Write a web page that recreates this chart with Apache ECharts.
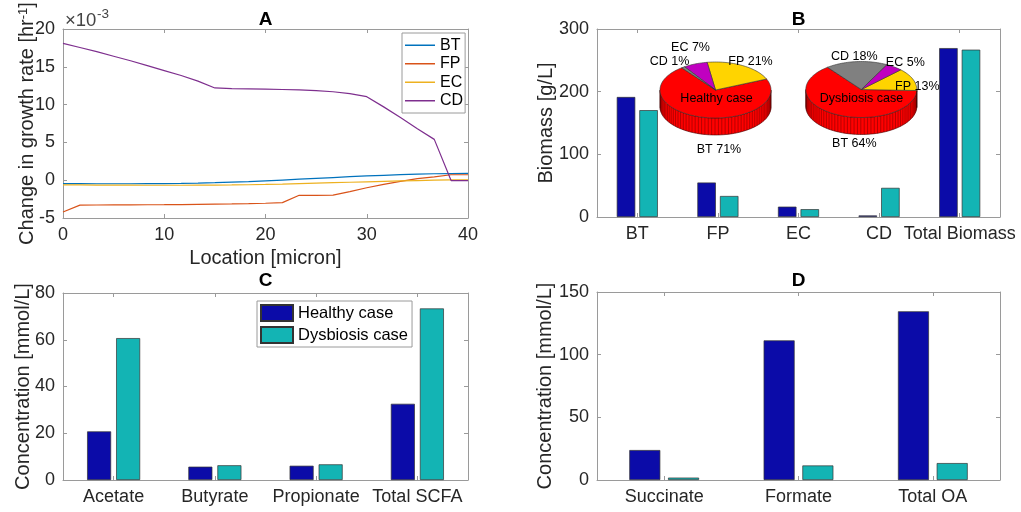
<!DOCTYPE html>
<html>
<head>
<meta charset="utf-8">
<title>Growth rate, biomass and metabolites</title>
<script src="https://cdn.jsdelivr.net/npm/echarts@6/dist/echarts.min.js"></script>
<style>
  html, body { margin: 0; padding: 0; background: #fff; }
  #main { width: 1021px; height: 512px; }
</style>
</head>
<body>
<div id="main"></div>
<script>
// ---- panel A: change in growth rate (x1e-3 per hr) along the location ----
var locs   = [0, 1.67, 3.33, 5, 6.67, 8.33, 10, 11.67, 13.33, 15, 16.67, 18.33, 20,
              21.67, 23.33, 25, 26.67, 28.33, 30, 31.67, 33.33, 35, 36.67, 38.33, 40];
var rateBT = [-0.45, -0.46, -0.47, -0.47, -0.47, -0.46, -0.45, -0.42, -0.38, -0.33, -0.26, -0.18, -0.08,
              0.02, 0.13, 0.24, 0.35, 0.46, 0.56, 0.65, 0.73, 0.8, 0.85, 0.88, 0.89];
var rateFP = [-4.2, -3.3, -3.28, -3.27, -3.26, -3.25, -3.24, -3.22, -3.2, -3.17, -3.14, -3.1, -3.05,
              -2.97, -2.0, -2.0, -1.98, -1.5, -1.0, -0.55, -0.15, 0.2, 0.45, 0.72, 0.72];
var rateEC = [-0.62, -0.63, -0.64, -0.65, -0.66, -0.67, -0.67, -0.67, -0.66, -0.65, -0.63, -0.6, -0.56,
              -0.51, -0.45, -0.39, -0.33, -0.27, -0.21, -0.15, -0.1, -0.05, 0.0, 0.03, 0.03];
var rateCD = [18.1, 17.55, 17.0, 16.4, 15.8, 15.15, 14.5, 13.85, 13.1, 12.2, 12.1, 12.08, 12.05,
              12.0, 11.95, 11.85, 11.7, 11.45, 11.05, 9.7, 8.3, 6.8, 5.4, -0.05, -0.05];

// ---- panel B: biomass [g/L] and composition pies [%] ----
var biomassCats      = ['BT', 'FP', 'EC', 'CD', 'Total Biomass'];
var biomassHealthy   = [191.5, 55, 16.5, 2.5, 269.5];
var biomassDysbiosis = [170.5, 33.5, 12.5, 46.5, 267];
var sliceNames       = ['BT', 'FP', 'EC', 'CD'];
var pieHealthy       = [71, 21, 7, 1];
var pieDysbiosis     = [64, 13, 5, 18];

// ---- panel C: short chain fatty acids [mmol/L] ----
var scfaCats      = ['Acetate', 'Butyrate', 'Propionate', 'Total SCFA'];
var scfaHealthy   = [20.8, 5.7, 6.1, 32.6];
var scfaDysbiosis = [60.7, 6.3, 6.7, 73.4];

// ---- panel D: organic acids [mmol/L] ----
var oaCats      = ['Succinate', 'Formate', 'Total OA'];
var oaHealthy   = [23.9, 111.4, 134.6];
var oaDysbiosis = [1.9, 11.6, 13.5];

var AXIS = '#9a9a9a', TEXT = '#262626';
var FONT = '"Liberation Sans", Arial, Helvetica, sans-serif';
var HEALTHY = '#0b0ba8', DYS = '#13b4b4';
var pieColors = ['#ff0000', '#ffd400', '#c000c0', '#808080'];
var PIE_START = 127.5, PIE_RX = 55.5, PIE_RY = 28, PIE_DEPTH = 17;

function tick() { return { show: true, inside: true, length: 4, lineStyle: { color: AXIS, width: 1 } }; }
function line() { return { show: true, onZero: false, lineStyle: { color: AXIS, width: 1 } }; }
function label() { return { color: TEXT, fontSize: 18, fontFamily: FONT, margin: 8 }; }
var nameStyle = { color: TEXT, fontSize: 20, fontFamily: FONT };

function valAxis(grid, min, max, step, pos, name, gap) {
  var ax = {
    gridIndex: grid, type: 'value', min: min, max: max, interval: step,
    axisLine: line(), axisTick: tick(), splitLine: { show: false },
    axisLabel: label()
  };
  if (pos) { ax.position = pos; ax.axisLabel = { show: false }; }
  if (name) {
    ax.name = name; ax.nameLocation = 'middle'; ax.nameGap = gap;
    ax.nameTextStyle = nameStyle; ax.nameMoveOverlap = false;
  }
  return ax;
}
function catAxis(grid, cats, pos) {
  var ax = {
    gridIndex: grid, type: 'category', data: cats,
    axisLine: line(), splitLine: { show: false },
    axisTick: Object.assign(tick(), { alignWithLabel: true }),
    axisLabel: Object.assign(label(), { interval: 0, hideOverlap: false })
  };
  if (pos) { ax.position = pos; ax.axisLabel = { show: false }; }
  return ax;
}
function bars(name, data, xi, yi, color, width, gap) {
  return {
    type: 'bar', name: name, data: data, xAxisIndex: xi, yAxisIndex: yi,
    barWidth: width, barGap: gap,
    itemStyle: { color: color, borderColor: '#333', borderWidth: 0.7 }
  };
}
function lineSeries(name, vals, color) {
  return {
    type: 'line', name: name, xAxisIndex: 0, yAxisIndex: 0, symbol: 'none',
    data: locs.map(function (x, i) { return [x, vals[i]]; }),
    lineStyle: { color: color, width: 1.2 }, itemStyle: { color: color }
  };
}

// 3-D looking pie drawn with a custom series, slices taken from the percentages
function pie3d(name, pct, cx, cy, labelPos) {
  var total = pct.reduce(function (s, v) { return s + v; }, 0);
  function pt(deg, dy) {
    var r = deg * Math.PI / 180;
    return [cx + PIE_RX * Math.cos(r), cy - PIE_RY * Math.sin(r) + (dy || 0)];
  }
  return {
    type: 'custom', name: name, coordinateSystem: 'none', silent: true, z: 5,
    data: pct,
    renderItem: function (params, api) {
      var i = params.dataIndex;
      var before = 0;
      for (var k = 0; k < i; k++) before += pct[k];
      var a0 = PIE_START + before / total * 360;
      var a1 = a0 + api.value(0) / total * 360;
      var children = [];
      // side wall, only the front (lower) half is visible
      [0, 360].forEach(function (off) {
        var s = Math.max(a0, 180 + off), e = Math.min(a1, 360 + off);
        if (e <= s) return;
        var top = [], bot = [];
        for (var t = s; t < e; t += 2) { top.push(pt(t)); bot.push(pt(t, PIE_DEPTH)); }
        top.push(pt(e)); bot.push(pt(e, PIE_DEPTH));
        children.push({ type: 'polygon', shape: { points: top.concat(bot.reverse()) },
          style: { fill: pieColors[i], stroke: '#400000', lineWidth: 0.6 } });
        for (var t2 = Math.ceil(s / 3.5) * 3.5; t2 < e; t2 += 3.5) {
          var p1 = pt(t2), p2 = pt(t2, PIE_DEPTH);
          children.push({ type: 'line', shape: { x1: p1[0], y1: p1[1], x2: p2[0], y2: p2[1] },
            style: { stroke: 'rgba(70,0,0,0.65)', lineWidth: 0.6 } });
        }
      });
      var face = [[cx, cy]];
      for (var t = a0; t < a1; t += 2) face.push(pt(t));
      face.push(pt(a1));
      children.push({ type: 'polygon', shape: { points: face },
        style: { fill: pieColors[i], stroke: '#333', lineWidth: 0.6 } });
      children.push({ type: 'text', style: {
        text: sliceNames[i] + ' ' + pct[i] + '%',
        x: cx + labelPos[i][0], y: cy + labelPos[i][1],
        align: 'center', verticalAlign: 'middle',
        fontSize: 12.5, fontFamily: FONT, fill: '#000' } });
      return { type: 'group', children: children };
    }
  };
}

function panelTitle(txt, x, y) {
  return { type: 'text', x: x, y: y, style: { text: txt, align: 'center', verticalAlign: 'middle',
    fontSize: 19, fontWeight: 'bold', fontFamily: FONT, fill: '#000' } };
}

var chart = echarts.init(document.getElementById('main'));

chart.setOption({
  animation: false,
  backgroundColor: '#fff',
  grid: [
    { left: 63, top: 29, width: 405, height: 189, outerBoundsMode: 'none' },
    { left: 597, top: 29, width: 403, height: 188, outerBoundsMode: 'none' },
    { left: 63, top: 293, width: 405, height: 187, outerBoundsMode: 'none' },
    { left: 597, top: 292, width: 403, height: 188, outerBoundsMode: 'none' }
  ],
  xAxis: [
    valAxis(0, 0, 40, 10, null, 'Location [micron]', 30),
    valAxis(0, 0, 40, 10, 'top'),
    catAxis(1, biomassCats), catAxis(1, biomassCats, 'top'),
    catAxis(2, scfaCats), catAxis(2, scfaCats, 'top'),
    catAxis(3, oaCats), catAxis(3, oaCats, 'top')
  ],
  yAxis: [
    Object.assign(valAxis(0, -5, 20, 5, null, '{n|Change in growth rate [hr}{s|-1}{n|]}', 26), {
      nameTextStyle: { color: TEXT, fontFamily: FONT, rich: {
        n: { fontSize: 20, color: TEXT, fontFamily: FONT },
        s: { fontSize: 13, color: TEXT, fontFamily: FONT, verticalAlign: 'top' } } }
    }),
    valAxis(0, -5, 20, 5, 'right'),
    valAxis(1, 0, 300, 100, null, 'Biomass [g/L]', 41), valAxis(1, 0, 300, 100, 'right'),
    valAxis(2, 0, 80, 20, null, 'Concentration [mmol/L]', 30), valAxis(2, 0, 80, 20, 'right'),
    valAxis(3, 0, 150, 50, null, 'Concentration [mmol/L]', 42), valAxis(3, 0, 150, 50, 'right')
  ],
  legend: [
    {
      data: ['BT', 'FP', 'EC', 'CD'], orient: 'vertical', left: 402, top: 33,
      icon: 'rect', itemWidth: 30, itemHeight: 1.5, itemGap: 2, itemTextGap: 3, selectedMode: false,
      padding: [4, 2, 4, 3], borderColor: AXIS, borderWidth: 1, backgroundColor: '#fff',
      textStyle: { color: '#000', fontSize: 16, fontFamily: FONT, lineHeight: 16.5 }
    },
    {
      data: ['Healthy case', 'Dysbiosis case'], orient: 'vertical', left: 257, top: 301,
      itemWidth: 32, itemHeight: 16, itemGap: 4, itemTextGap: 3, icon: 'rect', selectedMode: false,
      padding: [3, 4, 3, 3], borderColor: AXIS, borderWidth: 1, backgroundColor: '#fff',
      textStyle: { color: '#000', fontSize: 16.5, fontFamily: FONT }
    }
  ],
  graphic: [
    panelTitle('A', 265.5, 20),
    panelTitle('B', 798.5, 20),
    panelTitle('C', 265.5, 281),
    panelTitle('D', 798.5, 281),
    { type: 'text', x: 65, y: 21, style: { text: '\u00d710', verticalAlign: 'middle', fontSize: 18.5, fontFamily: FONT, fill: '#444' } },
    { type: 'text', x: 97, y: 14, style: { text: '-3', verticalAlign: 'middle', fontSize: 13.5, fontFamily: FONT, fill: '#444' } },
    { type: 'text', x: 716.5, y: 99, z: 100, style: { text: 'Healthy case', align: 'center', verticalAlign: 'middle', fontSize: 12.5, fontFamily: FONT, fill: '#000' } },
    { type: 'text', x: 861.5, y: 99, z: 100, style: { text: 'Dysbiosis case', align: 'center', verticalAlign: 'middle', fontSize: 12.5, fontFamily: FONT, fill: '#000' } }
  ],
  series: [
    lineSeries('BT', rateBT, '#0072bd'),
    lineSeries('FP', rateFP, '#d95319'),
    lineSeries('EC', rateEC, '#edb120'),
    lineSeries('CD', rateCD, '#7e2f8e'),
    bars('Healthy case', biomassHealthy, 2, 2, HEALTHY, 18.5, '22%'),
    bars('Dysbiosis case', biomassDysbiosis, 2, 2, DYS, 18.5, '22%'),
    bars('Healthy case', scfaHealthy, 4, 4, HEALTHY, 24, '21%'),
    bars('Dysbiosis case', scfaDysbiosis, 4, 4, DYS, 24, '21%'),
    bars('Healthy case', oaHealthy, 6, 6, HEALTHY, 31, '25%'),
    bars('Dysbiosis case', oaDysbiosis, 6, 6, DYS, 31, '25%'),
    pie3d('pieHealthy', pieHealthy, 715.5, 90,
      [[3.5, 60], [35, -28], [-25, -42], [-46, -28]]),
    pie3d('pieDysbiosis', pieDysbiosis, 861.3, 89.5,
      [[-7, 54], [56, -3], [44, -27], [-7, -33]])
  ]
});
</script>
</body>
</html>
